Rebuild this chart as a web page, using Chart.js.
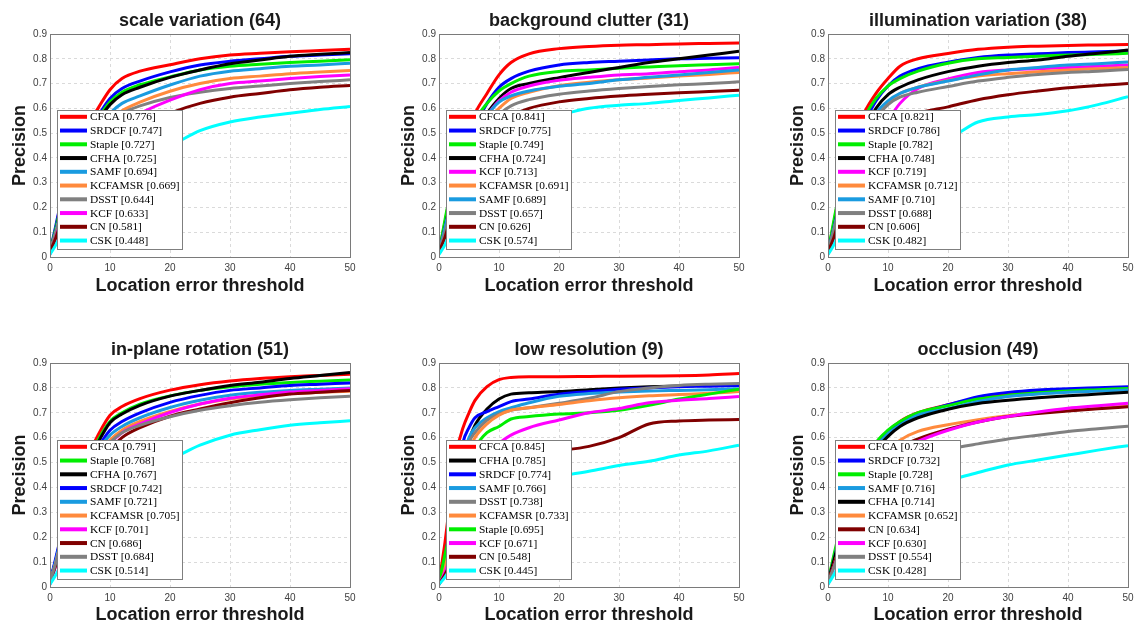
<!DOCTYPE html>
<html>
<head>
<meta charset="utf-8">
<script src="https://cdn.jsdelivr.net/npm/chart.js@4.4.0/dist/chart.umd.min.js"></script>
<style>
  html, body { margin: 0; padding: 0; background: #fff; width: 1136px; height: 625px; overflow: hidden; }
  canvas { position: absolute; }
</style>
</head>
<body>
<canvas id="c0"></canvas>
<canvas id="c1"></canvas>
<canvas id="c2"></canvas>
<canvas id="c3"></canvas>
<canvas id="c4"></canvas>
<canvas id="c5"></canvas>
<script>
// location error thresholds (px) where each curve is sampled
const thresholds = [0, 1, 2, 3, 4, 5, 6, 8, 10, 12, 15, 20, 25, 30, 35, 40, 45, 50];
const xTicks = [0, 10, 20, 30, 40, 50];
const yTicks = [0, 0.1, 0.2, 0.3, 0.4, 0.5, 0.6, 0.7, 0.8, 0.9];

const trackerColors = {
  CFCA: "#ff0000", SRDCF: "#0000ff", Staple: "#00ee00", CFHA: "#000000",
  SAMF: "#1a9be0", KCFAMSR: "#ff8a3d", DSST: "#808080", KCF: "#ff00ff",
  CN: "#800000", CSK: "#00ffff"
};

// scale variation (64)
const svNames = ["CFCA", "SRDCF", "Staple", "CFHA", "SAMF", "KCFAMSR", "DSST", "KCF", "CN", "CSK"];
const svScores = [0.776, 0.747, 0.727, 0.725, 0.694, 0.669, 0.644, 0.633, 0.581, 0.448];
const svCurves = [
  [0.02, 0.12, 0.24, 0.33, 0.41, 0.47, 0.52, 0.60, 0.675, 0.72, 0.75, 0.776, 0.80, 0.815, 0.822, 0.828, 0.833, 0.838],
  [0.02, 0.13, 0.24, 0.32, 0.39, 0.45, 0.50, 0.57, 0.64, 0.68, 0.71, 0.747, 0.775, 0.79, 0.80, 0.81, 0.815, 0.82],
  [0.02, 0.12, 0.22, 0.31, 0.38, 0.44, 0.49, 0.56, 0.625, 0.665, 0.695, 0.727, 0.755, 0.77, 0.778, 0.785, 0.79, 0.796],
  [0.02, 0.11, 0.21, 0.30, 0.37, 0.43, 0.48, 0.55, 0.615, 0.655, 0.685, 0.725, 0.755, 0.78, 0.795, 0.81, 0.818, 0.825],
  [0.02, 0.11, 0.20, 0.28, 0.35, 0.41, 0.46, 0.52, 0.58, 0.62, 0.65, 0.694, 0.73, 0.75, 0.76, 0.77, 0.775, 0.782],
  [0.02, 0.10, 0.19, 0.27, 0.33, 0.39, 0.43, 0.50, 0.55, 0.59, 0.625, 0.669, 0.70, 0.72, 0.73, 0.74, 0.747, 0.753],
  [0.02, 0.10, 0.19, 0.26, 0.33, 0.38, 0.43, 0.50, 0.55, 0.58, 0.61, 0.644, 0.665, 0.68, 0.69, 0.70, 0.708, 0.715],
  [0.01, 0.08, 0.16, 0.23, 0.29, 0.34, 0.38, 0.45, 0.50, 0.54, 0.58, 0.633, 0.675, 0.70, 0.71, 0.72, 0.728, 0.735],
  [0.02, 0.08, 0.15, 0.21, 0.27, 0.32, 0.36, 0.42, 0.46, 0.50, 0.53, 0.581, 0.62, 0.645, 0.66, 0.675, 0.685, 0.692],
  [0.01, 0.05, 0.10, 0.15, 0.19, 0.23, 0.26, 0.30, 0.33, 0.36, 0.40, 0.448, 0.51, 0.545, 0.565, 0.58, 0.595, 0.607]
];

// background clutter (31)
const bcNames = ["CFCA", "SRDCF", "Staple", "CFHA", "KCF", "KCFAMSR", "SAMF", "DSST", "CN", "CSK"];
const bcScores = [0.841, 0.775, 0.749, 0.724, 0.713, 0.691, 0.689, 0.657, 0.626, 0.574];
const bcCurves = [
  [0.02, 0.14, 0.27, 0.37, 0.45, 0.52, 0.58, 0.66, 0.735, 0.785, 0.82, 0.841, 0.85, 0.855, 0.857, 0.86, 0.862, 0.864],
  [0.02, 0.13, 0.25, 0.34, 0.41, 0.47, 0.53, 0.62, 0.685, 0.72, 0.75, 0.775, 0.785, 0.79, 0.795, 0.80, 0.802, 0.804],
  [0.02, 0.15, 0.27, 0.36, 0.43, 0.49, 0.55, 0.62, 0.67, 0.70, 0.73, 0.749, 0.755, 0.762, 0.767, 0.772, 0.776, 0.78],
  [0.02, 0.12, 0.23, 0.32, 0.39, 0.45, 0.50, 0.58, 0.64, 0.68, 0.70, 0.724, 0.745, 0.765, 0.785, 0.80, 0.815, 0.83],
  [0.02, 0.11, 0.22, 0.31, 0.38, 0.44, 0.49, 0.57, 0.63, 0.665, 0.69, 0.713, 0.725, 0.735, 0.74, 0.748, 0.755, 0.765],
  [0.02, 0.11, 0.21, 0.29, 0.36, 0.42, 0.47, 0.55, 0.60, 0.64, 0.665, 0.691, 0.705, 0.715, 0.722, 0.73, 0.737, 0.745],
  [0.02, 0.12, 0.22, 0.31, 0.38, 0.44, 0.49, 0.57, 0.625, 0.65, 0.67, 0.689, 0.70, 0.715, 0.725, 0.735, 0.745, 0.755],
  [0.02, 0.10, 0.19, 0.27, 0.34, 0.40, 0.45, 0.52, 0.575, 0.61, 0.635, 0.657, 0.67, 0.68, 0.688, 0.695, 0.70, 0.707],
  [0.02, 0.08, 0.16, 0.23, 0.29, 0.35, 0.40, 0.48, 0.54, 0.57, 0.60, 0.626, 0.64, 0.65, 0.657, 0.663, 0.668, 0.673],
  [0.01, 0.05, 0.11, 0.17, 0.23, 0.29, 0.34, 0.42, 0.49, 0.53, 0.555, 0.574, 0.60, 0.612, 0.62, 0.632, 0.642, 0.653]
];

// illumination variation (38)
const ivNames = ["CFCA", "SRDCF", "Staple", "CFHA", "KCF", "KCFAMSR", "SAMF", "DSST", "CN", "CSK"];
const ivScores = [0.821, 0.786, 0.782, 0.748, 0.719, 0.712, 0.710, 0.688, 0.606, 0.482];
const ivCurves = [
  [0.02, 0.14, 0.27, 0.37, 0.45, 0.52, 0.58, 0.66, 0.72, 0.77, 0.80, 0.821, 0.838, 0.847, 0.851, 0.854, 0.856, 0.858],
  [0.02, 0.13, 0.25, 0.34, 0.42, 0.49, 0.54, 0.63, 0.69, 0.73, 0.76, 0.786, 0.805, 0.815, 0.82, 0.825, 0.828, 0.832],
  [0.02, 0.15, 0.27, 0.36, 0.44, 0.50, 0.56, 0.64, 0.69, 0.72, 0.75, 0.782, 0.80, 0.805, 0.81, 0.815, 0.818, 0.822],
  [0.02, 0.12, 0.23, 0.32, 0.40, 0.46, 0.51, 0.60, 0.655, 0.685, 0.715, 0.748, 0.77, 0.785, 0.795, 0.81, 0.822, 0.835],
  [0.01, 0.08, 0.16, 0.23, 0.29, 0.35, 0.40, 0.47, 0.55, 0.62, 0.68, 0.719, 0.745, 0.755, 0.76, 0.765, 0.77, 0.775],
  [0.02, 0.11, 0.21, 0.30, 0.37, 0.43, 0.48, 0.57, 0.62, 0.66, 0.685, 0.712, 0.73, 0.74, 0.748, 0.755, 0.76, 0.765],
  [0.02, 0.12, 0.22, 0.31, 0.38, 0.44, 0.49, 0.58, 0.63, 0.66, 0.685, 0.710, 0.735, 0.755, 0.765, 0.775, 0.78, 0.787],
  [0.02, 0.11, 0.21, 0.29, 0.36, 0.42, 0.47, 0.56, 0.615, 0.645, 0.665, 0.688, 0.71, 0.725, 0.737, 0.745, 0.75, 0.757],
  [0.02, 0.08, 0.16, 0.23, 0.29, 0.35, 0.40, 0.47, 0.52, 0.55, 0.58, 0.606, 0.635, 0.655, 0.67, 0.683, 0.692, 0.70],
  [0.01, 0.05, 0.11, 0.16, 0.21, 0.26, 0.30, 0.36, 0.41, 0.44, 0.47, 0.482, 0.545, 0.565, 0.575, 0.59, 0.615, 0.647]
];

// in-plane rotation (51)
const iprNames = ["CFCA", "Staple", "CFHA", "SRDCF", "SAMF", "KCFAMSR", "KCF", "CN", "DSST", "CSK"];
const iprScores = [0.791, 0.768, 0.767, 0.742, 0.721, 0.705, 0.701, 0.686, 0.684, 0.514];
const iprCurves = [
  [0.02, 0.11, 0.22, 0.31, 0.39, 0.45, 0.51, 0.61, 0.69, 0.725, 0.757, 0.791, 0.813, 0.828, 0.838, 0.845, 0.85, 0.855],
  [0.02, 0.11, 0.21, 0.30, 0.37, 0.44, 0.49, 0.59, 0.665, 0.70, 0.735, 0.768, 0.79, 0.805, 0.815, 0.822, 0.827, 0.832],
  [0.02, 0.11, 0.21, 0.30, 0.37, 0.43, 0.48, 0.58, 0.66, 0.695, 0.73, 0.767, 0.79, 0.81, 0.823, 0.838, 0.85, 0.862],
  [0.02, 0.12, 0.22, 0.30, 0.36, 0.42, 0.47, 0.56, 0.63, 0.665, 0.70, 0.742, 0.77, 0.79, 0.80, 0.81, 0.815, 0.82],
  [0.02, 0.11, 0.21, 0.29, 0.35, 0.41, 0.46, 0.55, 0.61, 0.645, 0.68, 0.721, 0.75, 0.77, 0.782, 0.79, 0.795, 0.80],
  [0.02, 0.10, 0.20, 0.28, 0.34, 0.40, 0.45, 0.53, 0.59, 0.63, 0.665, 0.705, 0.735, 0.755, 0.768, 0.777, 0.782, 0.787],
  [0.01, 0.09, 0.18, 0.26, 0.32, 0.38, 0.43, 0.51, 0.575, 0.62, 0.655, 0.701, 0.735, 0.758, 0.772, 0.783, 0.79, 0.797],
  [0.02, 0.09, 0.17, 0.24, 0.30, 0.35, 0.40, 0.48, 0.55, 0.60, 0.64, 0.686, 0.715, 0.74, 0.76, 0.775, 0.782, 0.79],
  [0.02, 0.10, 0.19, 0.27, 0.33, 0.39, 0.44, 0.52, 0.58, 0.62, 0.65, 0.684, 0.71, 0.728, 0.742, 0.752, 0.76, 0.766],
  [0.01, 0.05, 0.10, 0.15, 0.20, 0.25, 0.29, 0.36, 0.41, 0.45, 0.48, 0.514, 0.57, 0.61, 0.632, 0.65, 0.66, 0.668]
];

// low resolution (9)
const lrNames = ["CFCA", "CFHA", "SRDCF", "SAMF", "DSST", "KCFAMSR", "Staple", "KCF", "CN", "CSK"];
const lrScores = [0.845, 0.785, 0.774, 0.766, 0.738, 0.733, 0.695, 0.671, 0.548, 0.445];
const lrCurves = [
  [0.02, 0.18, 0.38, 0.55, 0.64, 0.70, 0.75, 0.805, 0.833, 0.842, 0.845, 0.845, 0.846, 0.847, 0.848, 0.849, 0.852, 0.858],
  [0.01, 0.10, 0.22, 0.35, 0.50, 0.59, 0.65, 0.715, 0.755, 0.775, 0.78, 0.785, 0.793, 0.80, 0.805, 0.808, 0.81, 0.812],
  [0.01, 0.12, 0.26, 0.42, 0.58, 0.64, 0.68, 0.705, 0.725, 0.745, 0.755, 0.774, 0.785, 0.795, 0.80, 0.805, 0.807, 0.81],
  [0.01, 0.10, 0.22, 0.36, 0.52, 0.60, 0.64, 0.68, 0.705, 0.72, 0.74, 0.766, 0.777, 0.783, 0.787, 0.79, 0.793, 0.797],
  [0.01, 0.10, 0.20, 0.33, 0.48, 0.58, 0.62, 0.67, 0.695, 0.71, 0.72, 0.738, 0.758, 0.785, 0.80, 0.81, 0.815, 0.818],
  [0.01, 0.09, 0.19, 0.31, 0.45, 0.55, 0.60, 0.655, 0.69, 0.71, 0.72, 0.733, 0.748, 0.76, 0.768, 0.773, 0.778, 0.785],
  [0.02, 0.13, 0.24, 0.34, 0.44, 0.51, 0.56, 0.62, 0.645, 0.675, 0.685, 0.695, 0.70, 0.71, 0.73, 0.755, 0.775, 0.795],
  [0.01, 0.06, 0.13, 0.21, 0.29, 0.36, 0.42, 0.51, 0.575, 0.61, 0.64, 0.671, 0.70, 0.717, 0.74, 0.75, 0.757, 0.765],
  [0.01, 0.05, 0.10, 0.16, 0.22, 0.28, 0.33, 0.41, 0.47, 0.51, 0.535, 0.548, 0.565, 0.60, 0.655, 0.667, 0.671, 0.673],
  [0.01, 0.04, 0.08, 0.13, 0.18, 0.22, 0.26, 0.32, 0.37, 0.40, 0.425, 0.445, 0.465, 0.488, 0.505, 0.53, 0.547, 0.57]
];

// occlusion (49)
const occNames = ["CFCA", "SRDCF", "Staple", "SAMF", "CFHA", "KCFAMSR", "CN", "KCF", "DSST", "CSK"];
const occScores = [0.732, 0.732, 0.728, 0.716, 0.714, 0.652, 0.634, 0.630, 0.554, 0.428];
const occCurves = [
  [0.02, 0.12, 0.22, 0.30, 0.37, 0.43, 0.48, 0.57, 0.625, 0.665, 0.70, 0.732, 0.758, 0.775, 0.785, 0.792, 0.797, 0.80],
  [0.02, 0.11, 0.21, 0.29, 0.36, 0.42, 0.47, 0.56, 0.615, 0.655, 0.695, 0.732, 0.765, 0.782, 0.792, 0.797, 0.801, 0.805],
  [0.02, 0.13, 0.23, 0.31, 0.38, 0.44, 0.49, 0.58, 0.63, 0.665, 0.70, 0.728, 0.755, 0.77, 0.78, 0.788, 0.793, 0.798],
  [0.02, 0.11, 0.21, 0.29, 0.36, 0.42, 0.47, 0.56, 0.615, 0.65, 0.69, 0.716, 0.745, 0.765, 0.775, 0.782, 0.787, 0.792],
  [0.02, 0.11, 0.20, 0.28, 0.35, 0.41, 0.46, 0.55, 0.605, 0.645, 0.68, 0.714, 0.737, 0.75, 0.76, 0.768, 0.775, 0.782],
  [0.02, 0.09, 0.17, 0.24, 0.30, 0.36, 0.41, 0.49, 0.55, 0.59, 0.625, 0.652, 0.672, 0.688, 0.70, 0.71, 0.718, 0.727],
  [0.02, 0.09, 0.16, 0.23, 0.29, 0.34, 0.39, 0.46, 0.52, 0.56, 0.595, 0.634, 0.663, 0.685, 0.697, 0.707, 0.716, 0.724],
  [0.01, 0.08, 0.15, 0.22, 0.28, 0.33, 0.37, 0.45, 0.50, 0.545, 0.585, 0.630, 0.663, 0.685, 0.703, 0.718, 0.728, 0.738],
  [0.02, 0.08, 0.15, 0.21, 0.27, 0.32, 0.36, 0.43, 0.48, 0.505, 0.53, 0.554, 0.575, 0.595, 0.61, 0.625, 0.636, 0.646],
  [0.01, 0.05, 0.10, 0.15, 0.19, 0.23, 0.26, 0.31, 0.35, 0.375, 0.40, 0.428, 0.46, 0.49, 0.51, 0.53, 0.55, 0.568]
];

// each canvas has a 50px band either side of the axes so the title centres over the plot
const panels = [
  { id: "c0", title: "scale variation (64)", names: svNames, scores: svScores, curves: svCurves, left: 0, top: 0, row: 0 },
  { id: "c1", title: "background clutter (31)", names: bcNames, scores: bcScores, curves: bcCurves, left: 389, top: 0, row: 0 },
  { id: "c2", title: "illumination variation (38)", names: ivNames, scores: ivScores, curves: ivCurves, left: 778, top: 0, row: 0 },
  { id: "c3", title: "in-plane rotation (51)", names: iprNames, scores: iprScores, curves: iprCurves, left: 0, top: 310, row: 1 },
  { id: "c4", title: "low resolution (9)", names: lrNames, scores: lrScores, curves: lrCurves, left: 389, top: 310, row: 1 },
  { id: "c5", title: "occlusion (49)", names: occNames, scores: occScores, curves: occCurves, left: 778, top: 310, row: 1 }
];

const sans = "'Liberation Sans', Arial, sans-serif";

// box around the axes, like MATLAB "box on"
const axesBox = {
  id: "axesBox",
  afterDatasetsDraw(chart) {
    const { ctx, chartArea: a } = chart;
    ctx.save();
    ctx.strokeStyle = "#7a7a7a";
    ctx.lineWidth = 1;
    ctx.strokeRect(Math.round(a.left) + 0.5, Math.round(a.top) + 0.5, Math.round(a.right - a.left), Math.round(a.bottom - a.top));
    ctx.restore();
  }
};

// legend drawn inside the axes, bottom-left
const innerLegend = {
  id: "innerLegend",
  afterDraw(chart) {
    const { ctx, chartArea: a } = chart;
    const sets = chart.data.datasets;
    ctx.save();
    ctx.font = "11.4px 'Liberation Serif', 'Times New Roman', serif";
    const textW = Math.max(...sets.map(d => ctx.measureText(d.label).width));
    const rowH = 13.75;
    const w = Math.round(textW + 35);
    const h = Math.round(rowH * (sets.length - 1) + 15);
    const x = Math.round(a.left + 7);
    const y = Math.round(a.bottom - 8 - h);
    ctx.fillStyle = "#ffffff";
    ctx.fillRect(x, y, w, h);
    ctx.strokeStyle = "#7f7f7f";
    ctx.lineWidth = 1;
    ctx.strokeRect(x + 0.5, y + 0.5, w, h);
    ctx.textBaseline = "middle";
    sets.forEach((d, i) => {
      const cy = y + 6.8 + i * rowH;
      ctx.strokeStyle = d.borderColor;
      ctx.lineWidth = 4;
      ctx.beginPath();
      ctx.moveTo(x + 3, cy);
      ctx.lineTo(x + 30, cy);
      ctx.stroke();
      ctx.fillStyle = "#000";
      ctx.fillText(d.label, x + 33, cy + 0.5);
    });
    ctx.restore();
  }
};

panels.forEach(p => {
  const canvas = document.getElementById(p.id);
  canvas.width = 400;
  canvas.height = p.row === 0 ? 299 : 316;
  canvas.style.left = p.left + "px";
  canvas.style.top = p.top + "px";

  const datasets = p.names.map((name, i) => ({
    label: name + " [" + p.scores[i].toFixed(3) + "]",
    data: thresholds.map((t, k) => ({ x: t, y: p.curves[i][k] })),
    borderColor: trackerColors[name],
    backgroundColor: trackerColors[name],
    borderWidth: 3,
    pointRadius: 0,
    cubicInterpolationMode: "monotone",
    order: p.names.length - i
  }));

  const titleTop = p.row === 0 ? 10.7 : 29.7;
  const xAxisHeight = p.row === 0 ? 42 : 39;
  const xTitlePadBottom = p.row === 0 ? 2 : 0;

  new Chart(canvas.getContext("2d"), {
    type: "line",
    data: { datasets: datasets },
    options: {
      responsive: false,
      animation: false,
      layout: { padding: 0 },
      plugins: {
        legend: { display: false },
        tooltip: { enabled: false },
        title: {
          display: true,
          text: p.title,
          color: "#1a1a1a",
          font: { family: sans, size: 18, weight: "bold", lineHeight: 1.2 },
          padding: { top: titleTop, bottom: 1.7 }
        }
      },
      scales: {
        x: {
          type: "linear",
          min: 0,
          max: 50,
          afterBuildTicks: s => { s.ticks = xTicks.map(v => ({ value: v })); },
          afterFit: s => { s.height = xAxisHeight; },
          ticks: { color: "#404040", font: { family: sans, size: 10 }, padding: 5, maxRotation: 0 },
          grid: { color: "#dadada", drawTicks: false },
          border: { display: false, dash: [3, 3] },
          title: {
            display: true,
            text: "Location error threshold",
            color: "#1a1a1a",
            font: { family: sans, size: 18, weight: "bold", lineHeight: 1.2 },
            padding: { top: 0, bottom: xTitlePadBottom }
          }
        },
        y: {
          min: 0,
          max: 0.9,
          afterBuildTicks: s => { s.ticks = yTicks.map(v => ({ value: v })); },
          afterFit: s => { s.width = 50; },
          ticks: { color: "#404040", font: { family: sans, size: 10 }, padding: 3 },
          grid: { color: "#dadada", drawTicks: false },
          border: { display: false, dash: [3, 3] },
          title: {
            display: true,
            text: "Precision",
            color: "#1a1a1a",
            font: { family: sans, size: 18, weight: "bold", lineHeight: 1.2 },
            padding: { top: 9, bottom: 0 }
          }
        },
        // empty right-hand band, mirrors the y axis width
        yPad: {
          position: "right",
          min: 0,
          max: 0.9,
          afterFit: s => { s.width = 50; },
          ticks: { display: false },
          grid: { display: false, drawTicks: false },
          border: { display: false }
        }
      }
    },
    plugins: [axesBox, innerLegend]
  });
});
</script>
</body>
</html>
